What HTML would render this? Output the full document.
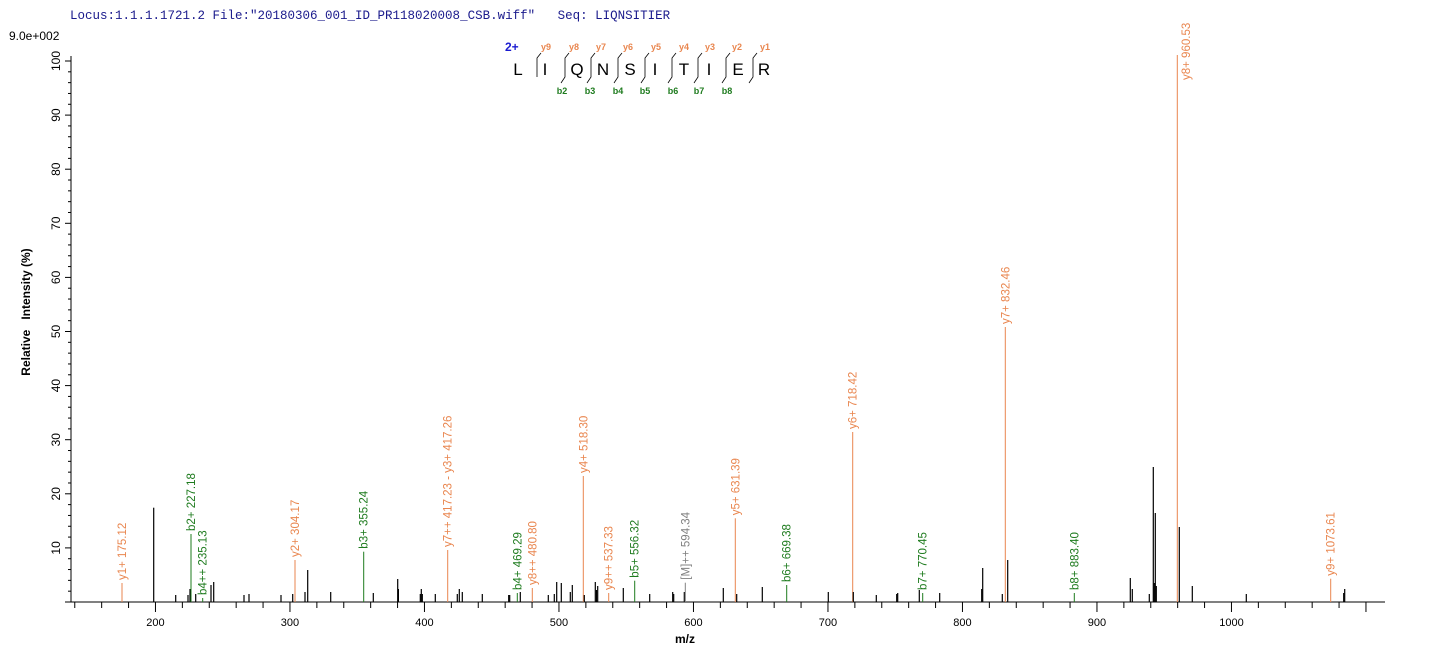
<!DOCTYPE html>
<html><head><meta charset="utf-8"><style>
html,body{margin:0;padding:0;background:#fff;}
svg{display:block;}
text{font-family:"Liberation Sans",Arial,sans-serif;}
</style></head><body>
<svg width="1436" height="661" viewBox="0 0 1436 661" xmlns="http://www.w3.org/2000/svg">
<text x="70" y="19" font-size="12.5" fill="#1a1a8c" xml:space="preserve" style="font-family:'Liberation Mono',monospace;white-space:pre">Locus:1.1.1.1721.2 File:"20180306_001_ID_PR118020008_CSB.wiff"   Seq: LIQNSITIER</text>
<text x="9" y="40" font-size="12" fill="#000">9.0e+002</text>
<line x1="71" y1="56" x2="71" y2="602" stroke="#000" stroke-width="1"/>
<line x1="68" y1="602" x2="1385" y2="602" stroke="#000" stroke-width="1"/>
<g id="yt" stroke="#000" stroke-width="1"></g>
<g id="xt" stroke="#000" stroke-width="1"></g>
<g id="ytl" font-size="12" fill="#000"></g>
<g id="xtl" font-size="11" fill="#000"></g>
<text x="685" y="643" font-size="12" font-weight="bold" text-anchor="middle">m/z</text>
<text transform="translate(30,312) rotate(-90)" font-size="12" font-weight="bold" text-anchor="middle" xml:space="preserve" style="white-space:pre">Relative   Intensity (%)</text>
<g id="pk"></g>
<g id="lb" font-size="11.5"></g>
<text x="505" y="51" font-size="12" font-weight="bold" fill="#1a1ad0">2+</text>
<g font-size="17" fill="#000" text-anchor="middle">
<text x="518" y="75">L</text><text x="545" y="75">I</text><text x="577" y="75">Q</text><text x="603" y="75">N</text><text x="630" y="75">S</text><text x="655" y="75">I</text><text x="684" y="75">T</text><text x="709" y="75">I</text><text x="738" y="75">E</text><text x="764" y="75">R</text>
</g>
<g id="sep" stroke="#000" stroke-width="0.8" fill="none"></g>
<g font-size="9" font-weight="bold" fill="#e9864f" text-anchor="middle">
<text x="546" y="50">y9</text><text x="574" y="50">y8</text><text x="601" y="50">y7</text><text x="628" y="50">y6</text><text x="656" y="50">y5</text><text x="684" y="50">y4</text><text x="710" y="50">y3</text><text x="737" y="50">y2</text><text x="765" y="50">y1</text>
</g>
<g font-size="9" font-weight="bold" fill="#1e7b1e" text-anchor="middle">
<text x="562" y="94">b2</text><text x="590" y="94">b3</text><text x="618" y="94">b4</text><text x="645" y="94">b5</text><text x="673" y="94">b6</text><text x="699" y="94">b7</text><text x="727" y="94">b8</text>
</g>
</svg>
<script>
var NS="http://www.w3.org/2000/svg";
function el(p,t,a,txt){var e=document.createElementNS(NS,t);for(var k in a)e.setAttribute(k,a[k]);if(txt!==undefined)e.textContent=txt;document.getElementById(p).appendChild(e);return e;}
for(var v=0;v<=100;v+=2){var y=602-5.41*v;var major=v%10==0;el("yt","line",{x1:major?65:68,y1:y,x2:71,y2:y});
 if(major&&v>0){el("ytl","text",{transform:"translate("+60+","+y+") rotate(-90)","text-anchor":"middle"},""+v);}}
function X(m){return 122+(m-175.12)*1.345;}
for(var m=140;m<=1100;m+=20){var x=X(m);var major=m%100==0;el("xt","line",{x1:x,y1:602,x2:x,y2:major?612:608});
 if(major&&m>=200&&m<=1000)el("xtl","text",{x:x,y:626,"text-anchor":"middle"},""+m);}
var O="#e9864f",G="#1e7b1e",K="#000",Gr="#808080";
var P=[
[122,583,O,"y1+ 175.12"],[153.7,507.7,K],[175.7,595,K],[188,595,K],[190,589,K],[191,534,G,"b2+ 227.18"],[195.7,594,K],
[202.7,598,G,"b4++ 235.13"],[211,585,K],[213.7,582,K],[244,595,K],[249,594,K],[281,595,K],[292.7,594,K],
[295,560,O,"y2+ 304.17"],[305,592,K],[307.7,570,K],[330.7,592,K],[363.7,551.7,G,"b3+ 355.24"],[373.3,593,K],
[397.7,579,K],[398.4,589,K],[420.3,594,K],[421.3,589,K],[422.3,594,K],[435.3,594,K],[447.7,550,O,"y7++ 417.23 - y3+ 417.26"],
[457.3,594,K],[459.3,589,K],[462.3,592,K],[482.3,594,K],[508.7,595,K],[509.7,595,K],[517.3,593,G,"b4+ 469.29"],[520.3,592,K],
[532.3,588,O,"y8++ 480.80"],[548.3,595,K],[554.3,594,K],[556.7,582,K],[561.3,583,K],[570.3,592,K],[572.3,585,K],
[583.3,476,O,"y4+ 518.30"],[584.3,595,K],[595.3,582,K],[596.5,590,K],[597.7,586,K],[608.7,593,O,"y9++ 537.33"],[623.3,588,K],
[634.7,580.7,G,"b5+ 556.32"],[649.7,594,K],[672.7,592,K],[673.7,594,K],[684.3,592,K],[685.3,582.7,Gr,"[M]++ 594.34"],
[723.3,588,K],[735.3,518.3,O,"y5+ 631.39"],[736.7,594,K],[762.3,587,K],[786.7,585,G,"b6+ 669.38"],[828.3,592,K],
[852.7,432,O,"y6+ 718.42"],[853.3,592,K],[876.3,595,K],[896.7,594,K],[897.7,593,K],[919.3,590,K],[922.7,593,G,"b7+ 770.45"],
[939.7,593,K],[981.7,589,K],[982.7,568,K],[1002.3,594,K],[1005.3,327,O,"y7+ 832.46"],[1007.7,560,K],
[1074.3,593,G,"b8+ 883.40"],[1130.3,578,K],[1132.3,589,K],[1149.3,594,K],[1153.3,467,K],[1154.3,583,K],[1155.3,513,K],[1156.3,586,K],
[1177.3,55,O],[1179.3,527,K],[1192.3,586,K],[1246.3,594,K],[1330.7,578.7,O,"y9+ 1073.61"],[1343.7,593,K],[1344.7,589,K]
];
P.forEach(function(p){el("pk","line",{x1:p[0],y1:602,x2:p[0],y2:p[1],stroke:p[2],"stroke-width":(p[2]==K?1.2:1)});
 if(p[3])el("lb","text",{transform:"translate("+(p[0]+4)+","+(p[1]-3)+") rotate(-90)",fill:p[2]},p[3]);});
el("lb","text",{transform:"translate(1190,80) rotate(-90)",fill:O},"y8+ 960.53");
var S=[537,565,591,618,645,672,698,726,753];
S.forEach(function(x,i){var d="M"+(x+4)+",53 L"+x+",58 L"+x+",77";if(i>0)d+=" L"+(x-4)+",83";el("sep","path",{d:d});});
</script>
</body></html>
